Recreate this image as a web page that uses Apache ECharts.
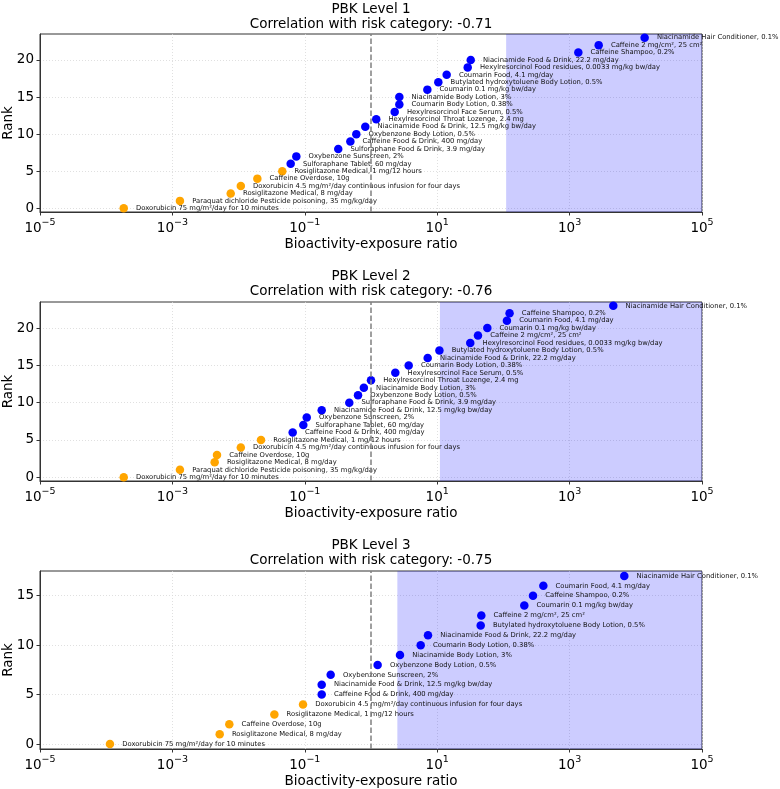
<!DOCTYPE html>
<html>
<head>
<meta charset="utf-8">
<script src="https://cdn.jsdelivr.net/npm/echarts@6/dist/echarts.min.js"></script>
<style>
html,body{margin:0;padding:0;background:#fff;}
#chart{width:780px;height:789px;}
</style>
</head>
<body>
<div id="chart"></div>
<script>
// ---------- DATA ----------
const panelTitles = ['PBK Level 1', 'PBK Level 2', 'PBK Level 3'];
const correlations = [-0.71, -0.76, -0.75];
const shadeThresholds = [110, 11, 2.5];
const referenceLine = 1;
const xTickExponents = [-5, -3, -1, 1, 3, 5];
const yTicksLevel12 = [0, 5, 10, 15, 20];
const yTicksLevel3 = [0, 5, 10, 15];

const level1Labels = [
  'Doxorubicin 75 mg/m²/day for 10 minutes',
  'Paraquat dichloride Pesticide poisoning, 35 mg/kg/day',
  'Rosiglitazone Medical, 8 mg/day',
  'Doxorubicin 4.5 mg/m²/day continuous infusion for four days',
  'Caffeine Overdose, 10g',
  'Rosiglitazone Medical, 1 mg/12 hours',
  'Sulforaphane Tablet, 60 mg/day',
  'Oxybenzone Sunscreen, 2%',
  'Sulforaphane Food & Drink, 3.9 mg/day',
  'Caffeine Food & Drink, 400 mg/day',
  'Oxybenzone Body Lotion, 0.5%',
  'Niacinamide Food & Drink, 12.5 mg/kg bw/day',
  'Hexylresorcinol Throat Lozenge, 2.4 mg',
  'Hexylresorcinol Face Serum, 0.5%',
  'Coumarin Body Lotion, 0.38%',
  'Niacinamide Body Lotion, 3%',
  'Coumarin 0.1 mg/kg bw/day',
  'Butylated hydroxytoluene Body Lotion, 0.5%',
  'Coumarin Food, 4.1 mg/day',
  'Hexylresorcinol Food residues, 0.0033 mg/kg bw/day',
  'Niacinamide Food & Drink, 22.2 mg/day',
  'Caffeine Shampoo, 0.2%',
  'Caffeine 2 mg/cm², 25 cm²',
  'Niacinamide Hair Conditioner, 0.1%'
];
const level1Ratios = [1.84e-4, 1.30e-3, 7.6e-3, 0.0108, 0.0192, 0.0457, 0.0612, 0.0745, 0.32, 0.488, 0.60, 0.82, 1.2, 2.28, 2.68, 2.68, 7.1, 10.4, 13.9, 28.9, 32.1, 1355, 2750, 13600];
const level1OrangeCount = 6;

const level2Labels = [
  'Doxorubicin 75 mg/m²/day for 10 minutes',
  'Paraquat dichloride Pesticide poisoning, 35 mg/kg/day',
  'Rosiglitazone Medical, 8 mg/day',
  'Caffeine Overdose, 10g',
  'Doxorubicin 4.5 mg/m²/day continuous infusion for four days',
  'Rosiglitazone Medical, 1 mg/12 hours',
  'Caffeine Food & Drink, 400 mg/day',
  'Sulforaphane Tablet, 60 mg/day',
  'Oxybenzone Sunscreen, 2%',
  'Niacinamide Food & Drink, 12.5 mg/kg bw/day',
  'Sulforaphane Food & Drink, 3.9 mg/day',
  'Oxybenzone Body Lotion, 0.5%',
  'Niacinamide Body Lotion, 3%',
  'Hexylresorcinol Throat Lozenge, 2.4 mg',
  'Hexylresorcinol Face Serum, 0.5%',
  'Coumarin Body Lotion, 0.38%',
  'Niacinamide Food & Drink, 22.2 mg/day',
  'Butylated hydroxytoluene Body Lotion, 0.5%',
  'Hexylresorcinol Food residues, 0.0033 mg/kg bw/day',
  'Caffeine 2 mg/cm², 25 cm²',
  'Coumarin 0.1 mg/kg bw/day',
  'Coumarin Food, 4.1 mg/day',
  'Caffeine Shampoo, 0.2%',
  'Niacinamide Hair Conditioner, 0.1%'
];
const level2Ratios = [1.84e-4, 1.30e-3, 4.35e-3, 4.72e-3, 0.0108, 0.0218, 0.0656, 0.095, 0.107, 0.18, 0.47, 0.637, 0.78, 1.0, 2.33, 3.71, 7.18, 10.8, 31.6, 41.3, 57.2, 113, 124, 4570];
const level2OrangeCount = 6;

const level3Labels = [
  'Doxorubicin 75 mg/m²/day for 10 minutes',
  'Rosiglitazone Medical, 8 mg/day',
  'Caffeine Overdose, 10g',
  'Rosiglitazone Medical, 1 mg/12 hours',
  'Doxorubicin 4.5 mg/m²/day continuous infusion for four days',
  'Caffeine Food & Drink, 400 mg/day',
  'Niacinamide Food & Drink, 12.5 mg/kg bw/day',
  'Oxybenzone Sunscreen, 2%',
  'Oxybenzone Body Lotion, 0.5%',
  'Niacinamide Body Lotion, 3%',
  'Coumarin Body Lotion, 0.38%',
  'Niacinamide Food & Drink, 22.2 mg/day',
  'Butylated hydroxytoluene Body Lotion, 0.5%',
  'Caffeine 2 mg/cm², 25 cm²',
  'Coumarin 0.1 mg/kg bw/day',
  'Caffeine Shampoo, 0.2%',
  'Coumarin Food, 4.1 mg/day',
  'Niacinamide Hair Conditioner, 0.1%'
];
const level3Ratios = [1.14e-4, 5.18e-3, 7.24e-3, 0.0347, 0.094, 0.18, 0.18, 0.246, 1.26, 2.74, 5.63, 7.26, 45.4, 46.4, 207, 280, 401, 6700];
const level3OrangeCount = 5;

// ---------- CHART ----------
const FONT = 'DejaVu Sans';
const panels = [
  {labels: level1Labels, ratios: level1Ratios, orange: level1OrangeCount, yTicks: yTicksLevel12},
  {labels: level2Labels, ratios: level2Ratios, orange: level2OrangeCount, yTicks: yTicksLevel12},
  {labels: level3Labels, ratios: level3Ratios, orange: level3OrangeCount, yTicks: yTicksLevel3}
];
const gridTops = [34, 302, 571];
const gridHeights = [178, 179, 178];
const titleTops = [1.5, 269, 537.5];

const chart = echarts.init(document.getElementById('chart'), null, {renderer: 'canvas'});

const xTickValues = xTickExponents.map(e => Math.pow(10, e));
function supLabel(v) {
  const e = Math.round(Math.log10(v));
  const s = (e < 0 ? '\u2212' : '') + Math.abs(e);
  return '{b|10}{s|' + s + '}';
}

const option = {
  animation: false,
  backgroundColor: '#fff',
  textStyle: {fontFamily: FONT},
  title: panels.map((p, i) => ({
    text: panelTitles[i] + '\nCorrelation with risk category: ' + correlations[i].toFixed(2),
    left: 371,
    top: titleTops[i],
    textAlign: 'center',
    padding: 0,
    textStyle: {fontFamily: FONT, fontSize: 13.5, fontWeight: 'normal', color: '#000', lineHeight: 15}
  })),
  grid: panels.map((p, i) => ({
    left: 40, right: 78, top: gridTops[i], height: gridHeights[i],
    show: true, borderColor: '#333', borderWidth: 1, backgroundColor: 'transparent',
    containLabel: false, outerBoundsMode: 'none'
  })),
  xAxis: panels.map((p, i) => ({
    type: 'log', gridIndex: i, logBase: 10, min: 1e-5, max: 1e5,
    name: 'Bioactivity-exposure ratio', nameLocation: 'middle', nameGap: 25, nameMoveOverlap: false,
    nameTextStyle: {fontFamily: FONT, fontSize: 13.5, color: '#000'},
    axisLine: {show: true, onZero: false, lineStyle: {color: '#333', width: 1}},
    axisTick: {show: true, inside: false, length: 3.5, lineStyle: {color: '#333'}, customValues: xTickValues},
    axisLabel: {
      show: true, margin: 5.5, customValues: xTickValues,
      formatter: supLabel,
      rich: {
        b: {fontFamily: FONT, fontSize: 13.5, color: '#000', lineHeight: 18, verticalAlign: 'bottom'},
        s: {fontFamily: FONT, fontSize: 9.5, color: '#000', verticalAlign: 'top', lineHeight: 11}
      }
    },
    splitLine: {show: true, customValues: xTickValues, lineStyle: {color: '#d8d8d8', width: 0.8, type: [1, 2]}},
    minorTick: {show: false}
  })),
  yAxis: panels.map((p, i) => ({
    type: 'value', gridIndex: i, min: -0.5, max: p.labels.length - 0.5,
    name: 'Rank', nameLocation: 'middle', nameGap: 25, nameRotate: 90, nameMoveOverlap: false,
    nameTextStyle: {fontFamily: FONT, fontSize: 13.5, color: '#000'},
    axisLine: {show: true, onZero: false, lineStyle: {color: '#333', width: 1}},
    axisTick: {show: true, length: 3.5, lineStyle: {color: '#333'}, customValues: p.yTicks},
    axisLabel: {show: true, margin: 6, fontFamily: FONT, fontSize: 13.5, color: '#000', customValues: p.yTicks},
    splitLine: {show: true, customValues: p.yTicks, lineStyle: {color: '#d8d8d8', width: 0.8, type: [1, 2]}}
  })),
  series: []
};

panels.forEach((p, i) => {
  const mk = (from, to) => {
    const arr = [];
    for (let k = from; k < to; k++) arr.push({name: p.labels[k], value: [p.ratios[k], k]});
    return arr;
  };
  const labelCfg = {
    show: true, position: 'right', distance: 8, formatter: '{b}',
    fontFamily: FONT, fontSize: 6.8, color: '#111'
  };
  option.series.push({
    type: 'scatter', xAxisIndex: i, yAxisIndex: i, z: 3,
    symbol: 'circle', symbolSize: 8.5,
    itemStyle: {color: '#FFA500', opacity: 1},
    label: labelCfg,
    data: mk(0, p.orange),
    markArea: {
      silent: true,
      itemStyle: {color: 'rgba(0,0,255,0.2)'},
      data: [[{xAxis: shadeThresholds[i]}, {xAxis: 1e5}]]
    },
    markLine: {
      silent: true, symbol: ['none', 'none'],
      label: {show: false},
      lineStyle: {color: '#808080', width: 1.5, type: [5.5, 2.5]},
      data: [{xAxis: referenceLine}]
    }
  });
  option.series.push({
    type: 'scatter', xAxisIndex: i, yAxisIndex: i, z: 4,
    symbol: 'circle', symbolSize: 8.5,
    itemStyle: {color: '#0000FF', opacity: 1},
    label: labelCfg,
    data: mk(p.orange, p.labels.length)
  });
});

chart.setOption(option);
</script>
</body>
</html>
